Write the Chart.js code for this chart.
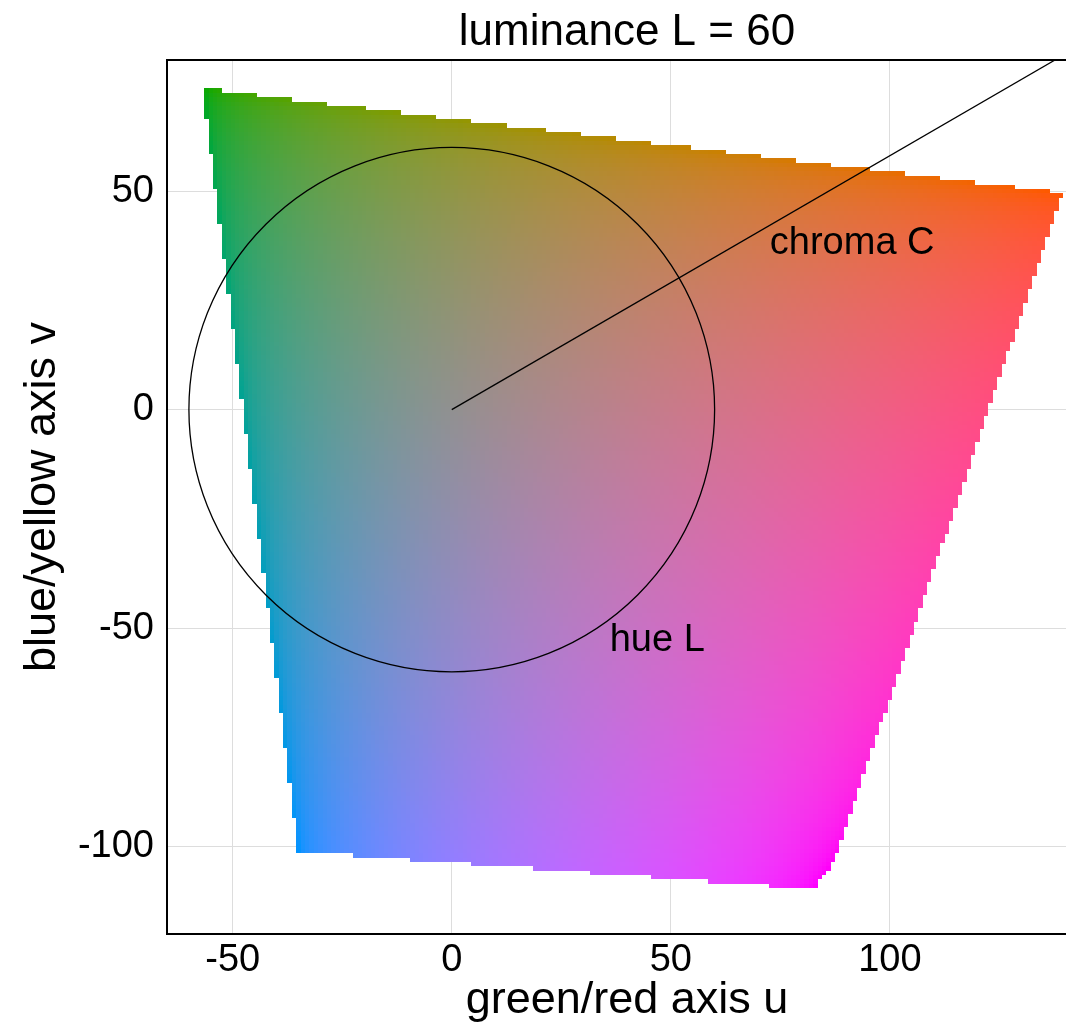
<!DOCTYPE html>
<html>
<head>
<meta charset="utf-8">
<script src="https://cdn.jsdelivr.net/npm/chart.js@4.4.1/dist/chart.umd.min.js"></script>
<style>
  html, body { margin: 0; padding: 0; background: #fff; overflow: hidden; }
  #wrap { width: 1100px; height: 1034px; }
</style>
</head>
<body>
<div id="wrap"><canvas id="luvChart"></canvas></div>
<script>
// CIE Luv slice at fixed luminance, drawn cell by cell on the u/v plane

const luminance = 60;
const uRange = [-65, 145];
const vRange = [-120, 80];
const cellSize = 1;

const xTicks = [-50, 0, 50, 100];
const yTicks = [-100, -50, 0, 50];

const hueRadius = 60;
const chromaLine = [{ x: 0, y: 0 }, { x: 137.7, y: 80 }];

const labelText = ['chroma C', 'hue L'];
const labelU = [91.4, 46.9];
const labelV = [35.7, -55.2];

const titleText = 'luminance L = 60';
const fontFamily = "'Liberation Sans', Arial, sans-serif";

// Luv -> sRGB (D65); null when a channel does not round into 0..255
function luvToRgb(L, u, v) {
    const un = 0.19783982, vn = 0.46833630;
    const Y = L > 8 ? Math.pow((L + 16) / 116, 3) : L / 903.3;
    const up = u / (13 * L) + un;
    const vp = v / (13 * L) + vn;
    const X = Y * 9 * up / (4 * vp);
    const Z = Y * (12 - 3 * up - 20 * vp) / (4 * vp);
    const lin = [
        3.2404542 * X - 1.5371385 * Y - 0.4985314 * Z,
        -0.9692660 * X + 1.8760108 * Y + 0.0415560 * Z,
        0.0556434 * X - 0.2040259 * Y + 1.0572252 * Z
    ];
    const out = lin.map(c => {
        const a = Math.abs(c);
        const g = a <= 0.0031308 ? 12.92 * a : 1.055 * Math.pow(a, 1 / 2.4) - 0.055;
        return Math.round(Math.sign(c) * g * 255);
    });
    if (out.some(c => c < 0 || c > 255)) return null;
    return `rgb(${out[0]},${out[1]},${out[2]})`;
}

// colour field, drawn under the datasets but over the grid
const fieldPlugin = {
    id: 'luvField',
    beforeDatasetsDraw(chart) {
        const { ctx, chartArea, scales: { x, y } } = chart;
        ctx.save();
        ctx.beginPath();
        ctx.rect(chartArea.left, chartArea.top, chartArea.right - chartArea.left, chartArea.bottom - chartArea.top);
        ctx.clip();
        const h = cellSize / 2;
        for (let u = uRange[0]; u <= uRange[1]; u += cellSize) {
            const x0 = Math.round(x.getPixelForValue(u - h));
            const x1 = Math.round(x.getPixelForValue(u + h));
            for (let v = vRange[0]; v <= vRange[1]; v += cellSize) {
                const col = luvToRgb(luminance, u, v);
                if (!col) continue;
                const y0 = Math.round(y.getPixelForValue(v + h));
                const y1 = Math.round(y.getPixelForValue(v - h));
                ctx.fillStyle = col;
                ctx.fillRect(x0, y0, x1 - x0, y1 - y0);
            }
        }
        ctx.restore();
    },
    afterDatasetsDraw(chart) {
        const { ctx, scales: { x, y } } = chart;
        const cx = x.getPixelForValue(0), cy = y.getPixelForValue(0);
        const rx = x.getPixelForValue(hueRadius) - cx;
        const ry = cy - y.getPixelForValue(hueRadius);
        ctx.save();
        ctx.strokeStyle = '#000';
        ctx.lineWidth = 1.3;
        ctx.beginPath();
        ctx.ellipse(cx, cy, rx, ry, 0, 0, Math.PI * 2);
        ctx.stroke();

        ctx.fillStyle = '#000';
        ctx.font = `38px ${fontFamily}`;
        ctx.textAlign = 'center';
        ctx.textBaseline = 'alphabetic';
        labelText.forEach((t, i) => {
            ctx.fillText(t, x.getPixelForValue(labelU[i]), y.getPixelForValue(labelV[i]));
        });
        ctx.restore();
    },
    afterDraw(chart) {
        const { ctx, chartArea } = chart;
        ctx.save();
        ctx.strokeStyle = '#000';
        ctx.lineWidth = 2;
        ctx.strokeRect(chartArea.left, chartArea.top, chartArea.right - chartArea.left, chartArea.bottom - chartArea.top);
        ctx.fillStyle = '#000';
        ctx.font = `44px ${fontFamily}`;
        ctx.textAlign = 'center';
        ctx.textBaseline = 'alphabetic';
        ctx.fillText(titleText, (chartArea.left + chartArea.right) / 2, 45);
        ctx.restore();
    }
};

Chart.defaults.font.family = fontFamily;
Chart.defaults.color = '#000';

new Chart(document.getElementById('luvChart'), {
    type: 'scatter',
    data: {
        datasets: [{
            data: chromaLine,
            showLine: true,
            borderColor: '#000',
            borderWidth: 1.3,
            pointRadius: 0
        }]
    },
    options: {
        responsive: true,
        maintainAspectRatio: false,
        animation: false,
        layout: { padding: { top: 60, right: 13, left: 0, bottom: 0 } },
        plugins: {
            legend: { display: false },
            tooltip: { enabled: false }
        },
        scales: {
            x: {
                type: 'linear',
                min: uRange[0],
                max: uRange[1],
                afterBuildTicks: s => { s.ticks = xTicks.map(value => ({ value })); },
                afterFit: s => { s.height = 100; },
                grid: { color: '#dddddd', lineWidth: 1, drawTicks: false },
                border: { display: false },
                ticks: { font: { size: 38 }, padding: 4, maxRotation: 0 },
                title: {
                    display: true,
                    text: 'green/red axis u',
                    font: { size: 45 },
                    padding: { top: 0, bottom: 6 }
                }
            },
            y: {
                type: 'linear',
                min: vRange[0],
                max: vRange[1],
                afterBuildTicks: s => { s.ticks = yTicks.map(value => ({ value })); },
                afterFit: s => { s.width = 167; },
                grid: { color: '#dddddd', lineWidth: 1, drawTicks: false },
                border: { display: false },
                ticks: { font: { size: 38 }, padding: 13 },
                title: {
                    display: true,
                    text: 'blue/yellow axis v',
                    font: { size: 45 },
                    padding: { top: 16, bottom: 0 }
                }
            }
        }
    },
    plugins: [fieldPlugin]
});
</script>
</body>
</html>
